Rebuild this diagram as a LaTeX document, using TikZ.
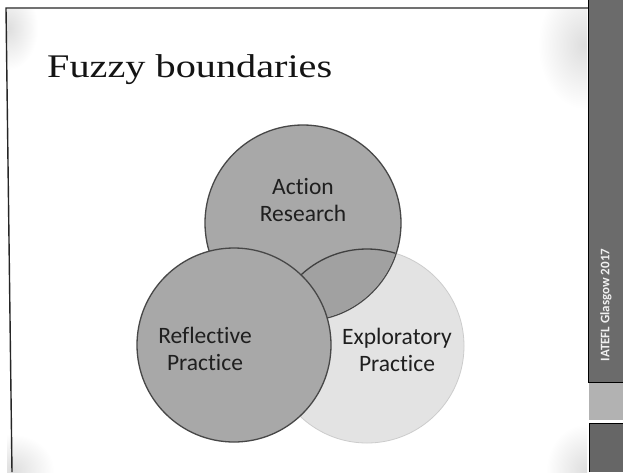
\documentclass[tikz,border=0pt]{standalone}
\usepackage{fontspec}
\setmainfont{Liberation Serif}
\newfontfamily\titlefam[FakeStretch=1.22]{Liberation Serif}
\newfontfamily\labelfam[Ligatures=NoCommon]{Carlito}
\begin{document}
\begin{tikzpicture}[x=1pt,y=-1pt,
  venn/.style={circle, inner sep=0pt, outer sep=0pt, minimum size=#1},
  frameline/.style={draw=black!85, line width=1.4pt},
  setlabel/.style={align=center, inner sep=0pt, text=black!88,
    font=\labelfam\fontsize{23.5}{26.5}\selectfont},
  haze/.style={inner color=black!13, outer color=white}]
  \useasboundingbox (0,0) rectangle (623,472);
  \fill[white] (0,0) rectangle (623,472);

  % faint toner haze in the corners of the slide
  \begin{scope}
    \clip (7,9) rectangle (587,472);
    \shade[haze] (8,28) ellipse (30pt and 42pt);
    \shade[haze] (584,45) ellipse (46pt and 64pt);
    \shade[haze] (12,470) ellipse (42pt and 36pt);
    \shade[haze] (586,470) ellipse (40pt and 46pt);
  \end{scope}

  % slide frame
  \coordinate (tl) at (6,8);
  \coordinate (tr) at (588,8);
  \coordinate (bl) at (12,472);
  \draw[frameline] (bl) -- (tl) -- (tr);

  % side band
  \fill[black!58] (588,0) rectangle (623,382);
  \fill[black!30] (589,383) rectangle (623,420);
  \fill[black!60] (589,423) rectangle (623,472);
  \draw[black, line width=1pt] (588.5,0) -- (588.5,382) -- (623,382);
  \draw[black, line width=1pt] (589.5,472) -- (589.5,423) -- (623,423);
  \node[rotate=90, inner sep=0pt, text=black!6,
        font=\labelfam\bfseries\fontsize{13}{15}\selectfont] (tag) at (606,305)
        {IATEFL Glasgow 2017};

  % title
  \node[anchor=base west, inner sep=0pt,
        font=\titlefam\fontsize{33}{40}\selectfont, text=black!92] (title) at (47,77)
        {Fuzzy boundaries};

  % the three sets
  \node[venn=194pt, fill=black!11, draw=black!20, line width=0.8pt] (ep) at (367,346) {};
  \node[venn=196pt, fill=black!34, draw=black!72, line width=1.3pt] (ar) at (303,223) {};
  \begin{scope}
    \clip (ar.center) circle (97.3pt);
    \fill[black!37] (ep.center) circle (97pt);
    \draw[black!75, line width=1.3pt] (ep.center) circle (97pt);
  \end{scope}
  \node[venn=194pt, fill=black!34, draw=black!72, line width=1.3pt] (rp) at (234,345) {};

  % set names
  \node[setlabel] (arname) at (303,200) {Action\\Research};
  \node[setlabel] (rpname) at (205,349) {Reflective\\Practice};
  \node[setlabel] (epname) at (397,350) {Exploratory\\Practice};
\end{tikzpicture}
\end{document}
